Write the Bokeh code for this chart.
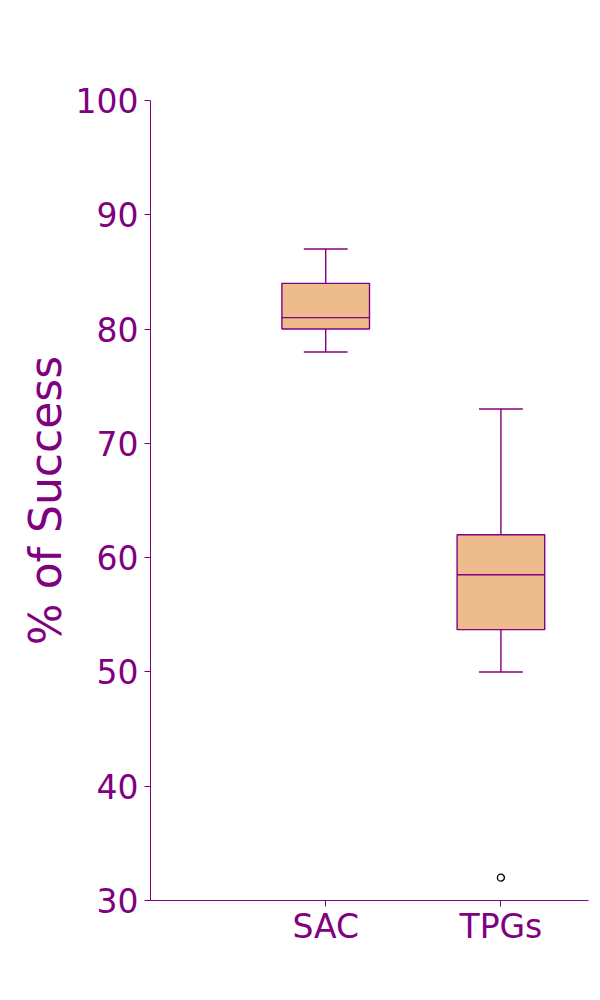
from bokeh.plotting import figure
from bokeh.models import Range1d, FixedTicker, ColumnDataSource
from bokeh.embed import file_html
from bokeh.resources import INLINE

categories = ["SAC", "TPGs"]
lower_whisker = [78, 50]
q1 = [80, 53.7]
median = [81, 58.5]
q3 = [84, 62]
upper_whisker = [87, 73]
outlier_cat = ["TPGs"]
outlier_val = [32]

PURPLE = "#800080"
FILL = "#edbb8c"
FONT = "DejaVu Sans"

pos = [i + 1 for i in range(len(categories))]
box_w = 0.5
cap_w = 0.25

src = ColumnDataSource(dict(
    x=pos,
    left=[p - box_w / 2 for p in pos],
    right=[p + box_w / 2 for p in pos],
    capl=[p - cap_w / 2 for p in pos],
    capr=[p + cap_w / 2 for p in pos],
    lw=lower_whisker, q1=q1, med=median, q3=q3, uw=upper_whisker,
))

p = figure(width=600, height=1000, output_backend="svg", toolbar_location=None,
           x_range=Range1d(0, 2.5), y_range=Range1d(30, 100),
           min_border_left=150, min_border_right=12,
           min_border_top=100, min_border_bottom=100)

lw = 1.4
# whiskers
p.segment(x0="x", y0="q3", x1="x", y1="uw", source=src, line_color=PURPLE, line_width=lw)
p.segment(x0="x", y0="q1", x1="x", y1="lw", source=src, line_color=PURPLE, line_width=lw)
p.segment(x0="capl", y0="uw", x1="capr", y1="uw", source=src, line_color=PURPLE, line_width=lw)
p.segment(x0="capl", y0="lw", x1="capr", y1="lw", source=src, line_color=PURPLE, line_width=lw)
# boxes
p.quad(left="left", right="right", bottom="q1", top="q3", source=src,
       fill_color=FILL, line_color=PURPLE, line_width=lw)
p.segment(x0="left", y0="med", x1="right", y1="med", source=src, line_color=PURPLE, line_width=lw)
# outliers
ox = [pos[categories.index(c)] for c in outlier_cat]
p.scatter(ox, outlier_val, marker="circle", size=7, fill_color=None,
          line_color="black", line_width=1.4)

p.xgrid.visible = False
p.ygrid.visible = False
p.outline_line_color = None
p.background_fill_color = "white"
p.border_fill_color = "white"

p.xaxis.ticker = FixedTicker(ticks=pos)
p.xaxis.major_label_overrides = {pp: c for pp, c in zip(pos, categories)}
p.yaxis.ticker = FixedTicker(ticks=list(range(30, 101, 10)))

for ax in (p.xaxis, p.yaxis):
    ax.axis_line_color = PURPLE
    ax.axis_line_width = 1
    ax.major_tick_line_color = PURPLE
    ax.major_tick_line_width = 1
    ax.major_tick_out = 6
    ax.major_tick_in = 0
    ax.minor_tick_line_color = None
    ax.major_label_text_color = PURPLE
    ax.major_label_text_font = FONT
    ax.major_label_text_font_size = "33px"
    ax.major_label_standoff = 6

p.xaxis.major_label_standoff = 0

p.yaxis.axis_label = "% of Success"
p.yaxis.axis_label_text_font = FONT
p.yaxis.axis_label_text_font_size = "44px"
p.yaxis.axis_label_text_font_style = "normal"
p.yaxis.axis_label_text_color = PURPLE
p.yaxis.axis_label_standoff = 2

open("out.html", "w").write(file_html(p, INLINE))
